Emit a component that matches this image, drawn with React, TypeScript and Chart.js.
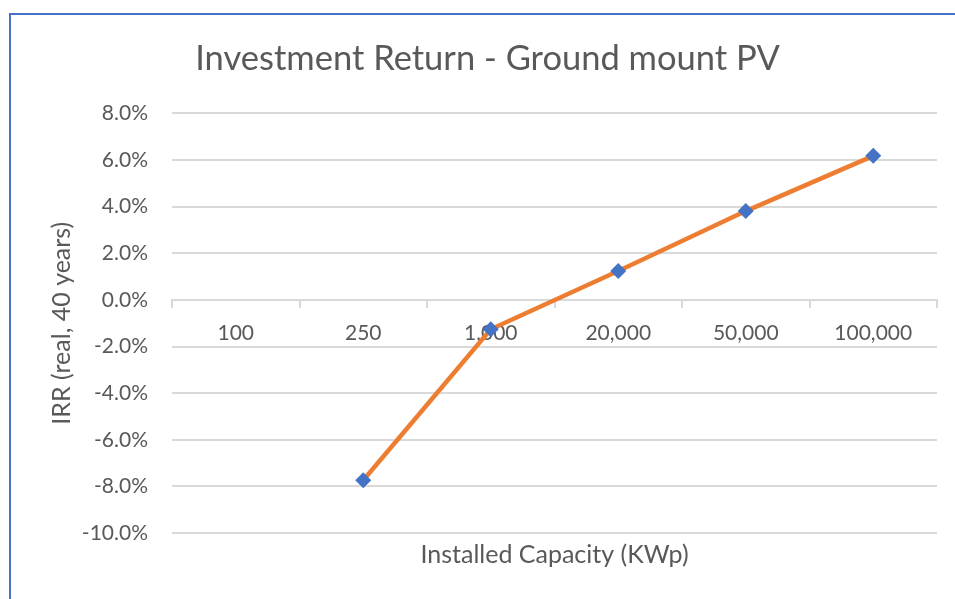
import React, { useEffect, useRef } from 'react';
import { Chart, registerables } from 'chart.js';

Chart.register(...registerables);

const chartTitle = 'Investment Return - Ground mount PV';
const xAxisTitle = 'Installed Capacity (KWp)';
const yAxisTitle = 'IRR (real, 40 years)';
const categories = ['100', '250', '1,000', '20,000', '50,000', '100,000'];
const irrValues: (number | null)[] = [null, -7.74, -1.26, 1.24, 3.81, 6.18];
const yMin = -10;
const yMax = 8;
const yStep = 2;

const TEXT = '#595959';
const GRID = '#d9d9d9';
const FONT = 'Lato';

export default function App() {
  const ref = useRef<HTMLCanvasElement | null>(null);

  useEffect(() => {
    if (!ref.current) return;
    const chart = new Chart(ref.current, {
      type: 'line',
      data: {
        labels: categories,
        datasets: [
          {
            label: 'IRR',
            data: irrValues,
            xAxisID: 'x',
            yAxisID: 'y',
            borderColor: '#ED7D31',
            borderWidth: 4.5,
            backgroundColor: '#4472C4',
            pointBackgroundColor: '#4472C4',
            pointBorderColor: '#4472C4',
            pointBorderWidth: 0,
            pointStyle: 'rectRot',
            pointRadius: 8,
            tension: 0,
            spanGaps: false,
          },
        ],
      },
      options: {
        animation: false,
        responsive: false,
        layout: { padding: { left: 38, right: 18, top: 0, bottom: 0 } },
        plugins: {
          legend: { display: false },
          tooltip: { enabled: false },
          title: {
            display: true,
            text: chartTitle,
            color: TEXT,
            font: { family: FONT, size: 34.5, weight: 'normal' },
            padding: { top: 38, bottom: 34 },
          },
        },
        scales: {
          x: {
            type: 'category',
            position: { y: 0 } as any,
            offset: true,
            grid: {
              display: true,
              offset: true,
              drawOnChartArea: false,
              drawTicks: true,
              tickLength: 7,
              color: GRID,
              lineWidth: 2,
            },
            border: { display: true, color: GRID, width: 2 },
            ticks: {
              color: TEXT,
              font: { family: FONT, size: 21 },
              padding: 14,
              maxRotation: 0,
              autoSkip: false,
            },
          },
          xt: {
            type: 'category',
            position: 'bottom',
            offset: true,
            grid: { display: false, drawTicks: false },
            border: { display: false },
            ticks: { display: false },
            title: {
              display: true,
              text: xAxisTitle,
              color: TEXT,
              font: { family: FONT, size: 25 },
              padding: { top: 0, bottom: 29 },
            },
            afterFit: (scale: any) => {
              scale.height = 66;
            },
          },
          y: {
            type: 'linear',
            position: 'left',
            min: yMin,
            max: yMax,
            grid: { color: GRID, lineWidth: 2, drawTicks: false },
            border: { display: false },
            ticks: {
              stepSize: yStep,
              color: TEXT,
              font: { family: FONT, size: 21 },
              padding: 24,
              callback: (v: any) => Number(v).toFixed(1) + '%',
            },
            title: {
              display: true,
              text: yAxisTitle,
              color: TEXT,
              font: { family: FONT, size: 25 },
              padding: { top: 9, bottom: 0 },
            },
            afterFit: (scale: any) => {
              scale.width = 134;
            },
          },
        },
      },
    });
    return () => chart.destroy();
  }, []);

  return (
    <div
      style={{
        position: 'absolute',
        left: 0,
        top: 0,
        width: 955,
        height: 599,
        overflow: 'hidden',
        background: '#ffffff',
      }}
    >
      <div
        style={{
          position: 'absolute',
          left: 9,
          top: 13,
          width: 2000,
          height: 2000,
          borderTop: '2px solid #4472C4',
          borderLeft: '2px solid #4472C4',
        }}
      />
      <canvas
        ref={ref}
        width={955}
        height={599}
        style={{ position: 'absolute', left: 0, top: 0, width: 955, height: 599 }}
      />
    </div>
  );
}
